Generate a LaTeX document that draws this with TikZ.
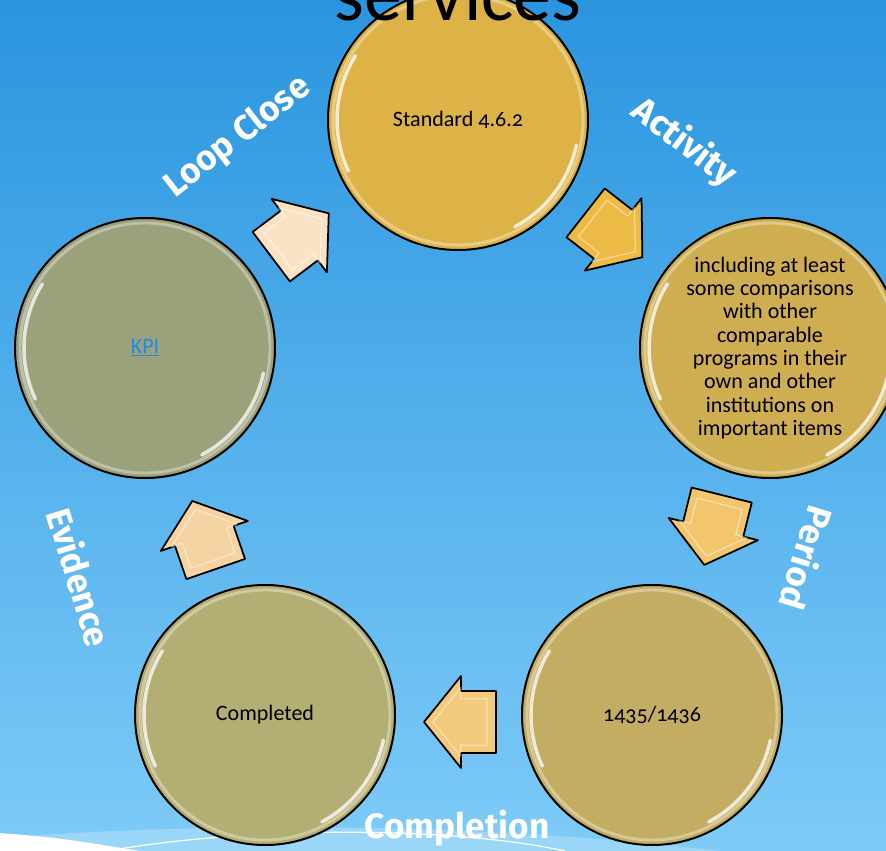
\documentclass[tikz,border=0pt]{standalone}
\usepackage{fontspec}
\setmainfont{Carlito}[Numbers=OldStyle]
\newfontfamily\labelfont{Fira Sans}
\definecolor{skytop}{HTML}{2A95DF}
\definecolor{skymid}{HTML}{56AEEB}
\definecolor{skybottom}{HTML}{7DCBF8}
\definecolor{skyband}{HTML}{A2D9F8}
\definecolor{goldA}{HTML}{DDB347}
\definecolor{goldB}{HTML}{CEAE50}
\definecolor{goldC}{HTML}{C3AD62}
\definecolor{oliveA}{HTML}{B3AE74}
\definecolor{oliveB}{HTML}{9AA17B}
\definecolor{arrowA}{HTML}{FBE2C4}
\definecolor{arrowB}{HTML}{EDBA45}
\definecolor{arrowC}{HTML}{F3C66E}
\definecolor{arrowD}{HTML}{F3C97C}
\definecolor{arrowE}{HTML}{F6D3A3}
\definecolor{linkblue}{HTML}{1E8BE8}
\tikzset{
  cyclearrow/.pic={
    \path[pic actions, draw=black, line width=1.5pt, line join=round]
      (-36,-31) -- (-1,-31) -- (-1,-46) -- (36,0) -- (-1,46) -- (-1,31) -- (-36,31) -- cycle;
    \path[draw=white, opacity=0.45, line width=1pt, line join=round, scale=0.75]
      (-36,-31) -- (-1,-31) -- (-1,-46) -- (36,0) -- (-1,46) -- (-1,31) -- (-36,31) -- cycle;
  }
}
\begin{document}
\begin{tikzpicture}[x=0.03cm, y=-0.03cm,
    stage/.style={circle, draw=black, line width=1.7pt, minimum size=7.8cm,
      inner sep=0pt, align=center, font=\fontsize{18.8}{19.9}\selectfont},
    rim/.style={white, opacity=0.35, line width=2.5pt},
    gloss/.style={white, opacity=0.75, line width=3pt, line cap=round},
    cyclelabel/.style={text=white, font=\labelfont\bfseries\fontsize{30}{30}\selectfont}]
  \useasboundingbox (0,0) rectangle (886,851);
  \clip (0,0) rectangle (886,851);
  \shade[top color=skytop, middle color=skymid, bottom color=skybottom] (0,0) rectangle (886,851);
  % swoosh at the bottom
  \fill[skyband, opacity=0.8] (0,838) .. controls (200,822) and (480,822) .. (720,851) -- (0,851) -- cycle;
  \fill[white] (0,833) .. controls (60,838) .. (140,851) -- (0,851) -- cycle;
  \draw[white, line width=1pt] (107,851) .. controls (250,826) and (450,826) .. (565,851);
  % stages
  \node[stage, fill=goldA] (std) at (458,120) {Standard 4.6.2};
  \node[stage, fill=goldB] (cmp) at (770,348) {including at least\\some comparisons\\with other\\comparable\\programs in their\\own and other\\institutions on\\important items};
  \node[stage, fill=goldC] (per) at (652,715) {1435/1436};
  \node[stage, fill=oliveA] (done) at (265,715) {Completed};
  \node[stage, fill=oliveB] (kpi) at (145,348) {\textcolor{linkblue}{\underline{KPI}}};
  \foreach \c in {std,cmp,per,done,kpi} {
    \draw[rim] (\c.center) circle[radius=125];
    \draw[gloss] ([shift={(-148:121)}]\c.center) arc[start angle=-148, end angle=-205, radius=121];
    \draw[gloss] ([shift={(12:121)}]\c.center) arc[start angle=12, end angle=62, radius=121];
  }
  % arrows
  \pic[rotate=37, fill=arrowA] (loopArrow) at (300,235) {cyclearrow};
  \pic[rotate=-38, fill=arrowB] (actArrow) at (614,235) {cyclearrow};
  \pic[rotate=-104, fill=arrowC] (perArrow) at (713,530) {cyclearrow};
  \pic[rotate=180, fill=arrowD] (cmpArrow) at (460,722) {cyclearrow};
  \pic[rotate=109, fill=arrowE] (evdArrow) at (204,535) {cyclearrow};
  % labels
  \node[cyclelabel, rotate=38] (loopLbl) at (238,137) {Loop Close};
  \node[cyclelabel, rotate=-37] (actLbl) at (684,143) {Activity};
  \node[cyclelabel, rotate=-107] (perLbl) at (807,558) {Period};
  \node[cyclelabel] (cmpLbl) at (457,828) {Completion};
  \node[cyclelabel, rotate=-73] (evdLbl) at (80,577) {Evidence};
  % title
  \node[anchor=base, font=\fontsize{65}{65}\selectfont] (title) at (458,21) {services};
\end{tikzpicture}
\end{document}
